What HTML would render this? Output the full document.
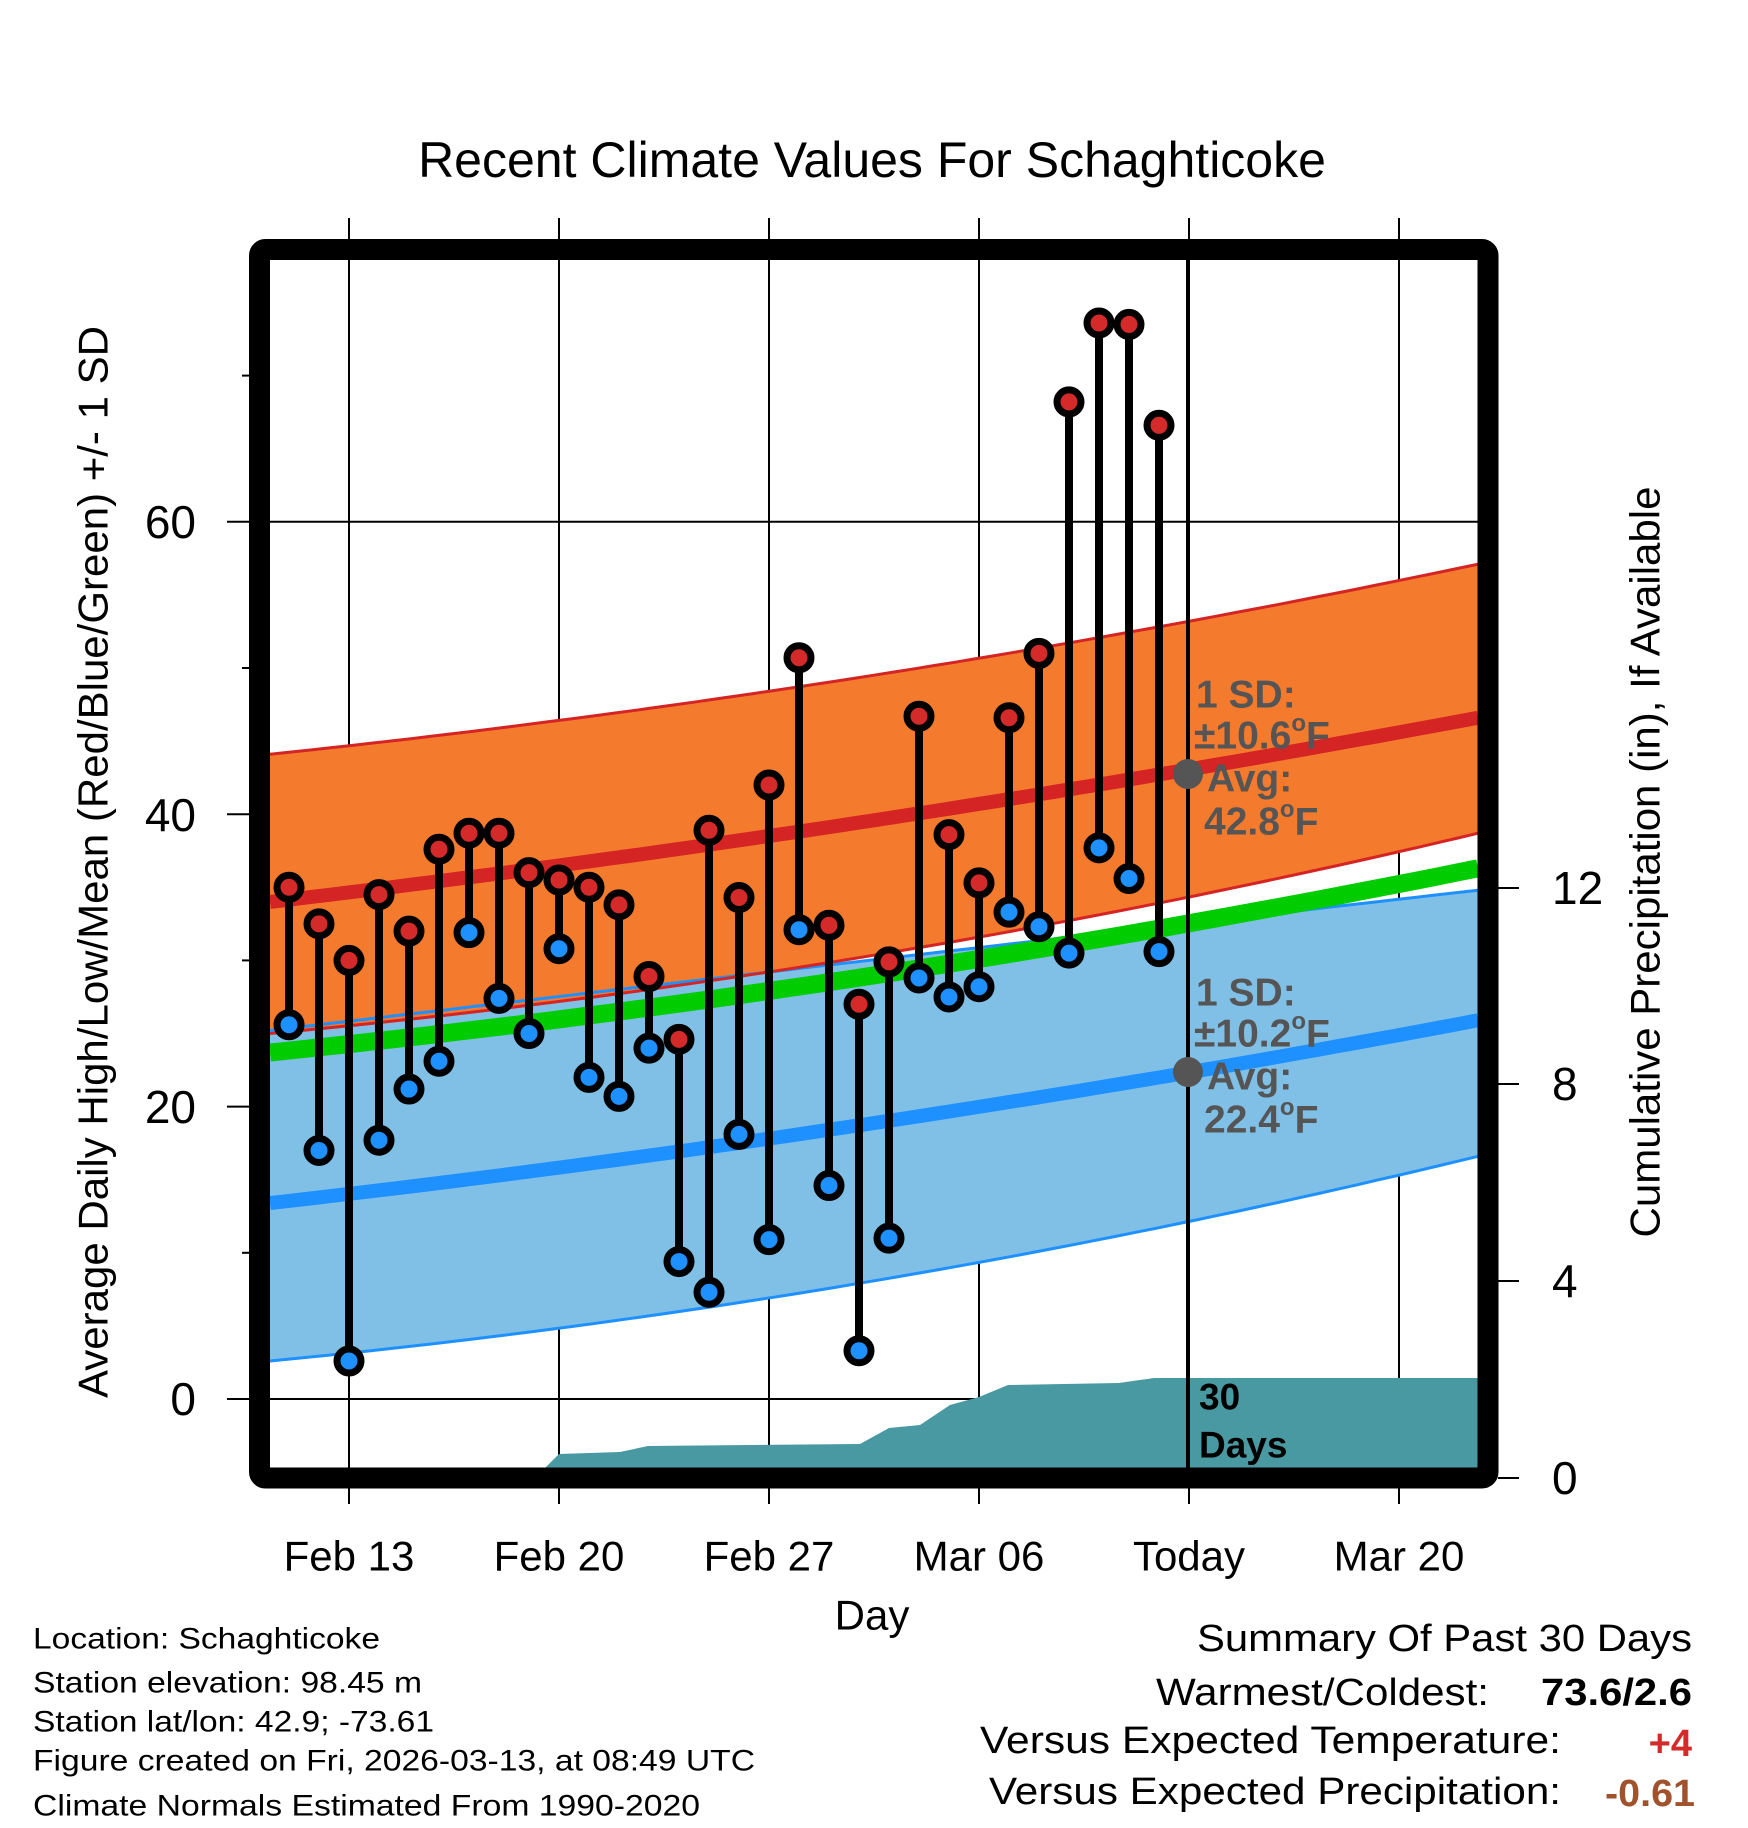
<!DOCTYPE html>
<html><head><meta charset="utf-8"><style>
html,body{margin:0;padding:0;background:#fff;}
svg{display:block;}
text{font-family:"Liberation Sans",Arial,sans-serif;}
</style></head><body>
<svg id="s" xmlns="http://www.w3.org/2000/svg" width="1748" height="1828" viewBox="0 0 1748 1828">
<rect width="1748" height="1828" fill="#fff"/>
<defs><clipPath id="c"><rect x="270" y="260" width="1208" height="1208"/></clipPath></defs>
<g id="plot" clip-path="url(#c)"></g>
<g id="fg"></g>
<text x="872" y="160" font-size="50" text-anchor="middle" dominant-baseline="central">Recent Climate Values For Schaghticoke</text>
<g font-size="46" text-anchor="end" dominant-baseline="central">
<text x="196" y="1399">0</text><text x="196" y="1107">20</text><text x="196" y="815">40</text><text x="196" y="522">60</text>
</g>
<g font-size="42" text-anchor="middle" dominant-baseline="central">
<text x="349" y="1556">Feb 13</text><text x="559" y="1556">Feb 20</text><text x="769" y="1556">Feb 27</text><text x="979" y="1556">Mar 06</text><text x="1189" y="1556">Today</text><text x="1399" y="1556">Mar 20</text>
<text x="872" y="1615">Day</text>
</g>
<g font-size="46" text-anchor="start" dominant-baseline="central">
<text x="1552" y="1478">0</text><text x="1552" y="1281">4</text><text x="1552" y="1084">8</text><text x="1552" y="888">12</text>
</g>
<text transform="translate(93,862) rotate(-90)" font-size="42" text-anchor="middle" dominant-baseline="central">Average Daily High/Low/Mean (Red/Blue/Green) +/- 1 SD</text>
<text transform="translate(1645,862) rotate(-90)" font-size="42" text-anchor="middle" dominant-baseline="central">Cumulative Precipitation (in), If Available</text>
<g font-size="30" dominant-baseline="central">
<text x="33" y="1639" textLength="347" lengthAdjust="spacingAndGlyphs">Location: Schaghticoke</text>
<text x="33" y="1683" textLength="389" lengthAdjust="spacingAndGlyphs">Station elevation: 98.45 m</text>
<text x="33" y="1722" textLength="401" lengthAdjust="spacingAndGlyphs">Station lat/lon: 42.9; -73.61</text>
<text x="33" y="1761" textLength="722" lengthAdjust="spacingAndGlyphs">Figure created on Fri, 2026-03-13, at 08:49 UTC</text>
<text x="33" y="1806" textLength="667" lengthAdjust="spacingAndGlyphs">Climate Normals Estimated From 1990-2020</text>
</g>
<g font-size="38" dominant-baseline="central">
<text x="1197" y="1639" textLength="495" lengthAdjust="spacingAndGlyphs">Summary Of Past 30 Days</text>
<text x="1156" y="1693" textLength="333" lengthAdjust="spacingAndGlyphs">Warmest/Coldest:</text>
<text x="1541" y="1693" textLength="151" lengthAdjust="spacingAndGlyphs" font-weight="bold">73.6/2.6</text>
<text x="980" y="1741" textLength="581" lengthAdjust="spacingAndGlyphs">Versus Expected Temperature:</text>
<text x="1692" y="1744" text-anchor="end" font-weight="bold" fill="#d42a2a">+4</text>
<text x="989" y="1792" textLength="572" lengthAdjust="spacingAndGlyphs">Versus Expected Precipitation:</text>
<text x="1605" y="1794" textLength="90" lengthAdjust="spacingAndGlyphs" font-weight="bold" fill="#a0522d">-0.61</text>
</g>
</svg>
<script>
(function(){
var NS="http://www.w3.org/2000/svg";
var P=document.getElementById('plot'),F=document.getElementById('fg');
function el(p,n,a){var e=document.createElementNS(NS,n);for(var k in a)e.setAttribute(k,a[k]);p.appendChild(e);return e;}
function Y(v){return 1399-14.62*v;}
function X(d){return 289+30*d;}
var tm=(768-270)/1208;
function curve(a,m,b){
 return function(t){var l0=(t-tm)*(t-1)/((0-tm)*(0-1)),l1=(t)*(t-1)/((tm)*(tm-1)),l2=t*(t-tm)/((1)*(1-tm));return a*l0+m*l1+b*l2;};}
var hiU=curve(44.1,48.4,57.1),hiM=curve(34,38.5,46.6),hiL=curve(25,29.2,38.7),
gr=curve(23.7,27.9,36.3),loU=curve(25.2,29.2,34.8),loM=curve(13.4,17.8,25.9),loL=curve(2.6,6.9,16.6);
function pts(f){var s=[];for(var i=0;i<=60;i++){var t=i/60;s.push([270+1208*t,Y(f(t))]);}return s;}
function ps(a){return a.map(function(p){return p[0].toFixed(1)+','+p[1].toFixed(1);}).join(' ');}
function band(fu,fl,col){var u=pts(fu),l=pts(fl).reverse();el(P,'polygon',{points:ps(u.concat(l)),fill:col});}
function line(f,col,w){el(P,'polyline',{points:ps(pts(f)),fill:'none',stroke:col,'stroke-width':w});}
[0,20,40,60].forEach(function(v){el(P,'line',{x1:270,x2:1478,y1:Y(v),y2:Y(v),stroke:'#000','stroke-width':2});});
[349,559,769,979,1399].forEach(function(x){el(P,'line',{x1:x,x2:x,y1:260,y2:1468,stroke:'#000','stroke-width':2});});
band(loU,loL,'#80c0e6');
band(hiU,hiL,'#f47a2e');
line(loU,'#1e90ff',3);line(loL,'#1e90ff',3);
line(hiU,'#d42424',3);line(hiL,'#d42424',3);
line(gr,'#00cc00',18);
line(hiM,'#d42424',14);
line(loM,'#1e90ff',14);
el(P,'polygon',{points:'543,1470 559,1454 620,1452 648,1446 860,1444 889,1428 920,1425 950,1405 979,1397 1008,1385 1119,1383 1154,1378 1480,1378 1480,1470',fill:'#4899a2'});
el(P,'line',{x1:1188,x2:1188,y1:260,y2:1468,stroke:'#000','stroke-width':4});
var d=[[35,25.6],[32.5,17],[30,2.6],[34.5,17.7],[32,21.2],[37.6,23.1],[38.7,31.9],[38.7,27.4],[36,25],[35.5,30.8],[35,22],[33.8,20.7],[28.9,24],[24.6,9.4],[38.9,7.3],[34.3,18.1],[42,10.9],[50.7,32.1],[32.4,14.6],[27,3.3],[29.9,11],[46.7,28.8],[38.6,27.5],[35.3,28.2],[46.6,33.3],[51,32.3],[68.2,30.5],[73.6,37.7],[73.5,35.6],[66.6,30.6]];
d.forEach(function(p,i){var x=X(i);el(P,'line',{x1:x,x2:x,y1:Y(p[0]),y2:Y(p[1]),stroke:'#000','stroke-width':8});});
d.forEach(function(p,i){var x=X(i);
 el(P,'circle',{cx:x,cy:Y(p[0]),r:12,fill:'#d42a2a',stroke:'#000','stroke-width':7});
 el(P,'circle',{cx:x,cy:Y(p[1]),r:12,fill:'#1e90ff',stroke:'#000','stroke-width':7});});
function ann(y0,sd,avg){
 el(P,'circle',{cx:1188,cy:y0+79,r:15,fill:'#555'});
 var g=el(P,'g',{'font-size':'39','font-weight':'bold',fill:'#555','dominant-baseline':'central'});
 function t(x,y,s){var e=el(g,'text',{x:x,y:y});e.innerHTML=s;}
 t(1196,y0,'1 SD:');
 t(1194,y0+41,'±'+sd+'<tspan font-size="24" dy="-13">o</tspan><tspan dy="13">F</tspan>');
 t(1207,y0+84,'Avg:');
 t(1204,y0+127,avg+'<tspan font-size="24" dy="-13">o</tspan><tspan dy="13">F</tspan>');
}
ann(695,'10.6','42.8');ann(993,'10.2','22.4');
var g2=el(P,'g',{'font-size':'37','font-weight':'bold',fill:'#000','dominant-baseline':'central'});
el(g2,'text',{x:1199,y:1397}).textContent='30';
el(g2,'text',{x:1199,y:1445}).textContent='Days';
el(F,'rect',{x:259.5,y:249.5,width:1228.5,height:1228.5,fill:'none',stroke:'#000','stroke-width':21,rx:6});
[0,20,40,60].forEach(function(v){el(F,'line',{x1:227,x2:250,y1:Y(v),y2:Y(v),stroke:'#000','stroke-width':2});});
[10,30,50,70].forEach(function(v){el(F,'line',{x1:242,x2:250,y1:Y(v),y2:Y(v),stroke:'#000','stroke-width':2});});
[349,559,769,979,1189,1399].forEach(function(x){el(F,'line',{x1:x,x2:x,y1:218,y2:240,stroke:'#000','stroke-width':2});el(F,'line',{x1:x,x2:x,y1:1488,y2:1504,stroke:'#000','stroke-width':2});});
[1478,1281,1084,888].forEach(function(y){el(F,'line',{x1:1498,x2:1519,y1:y,y2:y,stroke:'#000','stroke-width':2});});
})();
</script>
</body></html>
